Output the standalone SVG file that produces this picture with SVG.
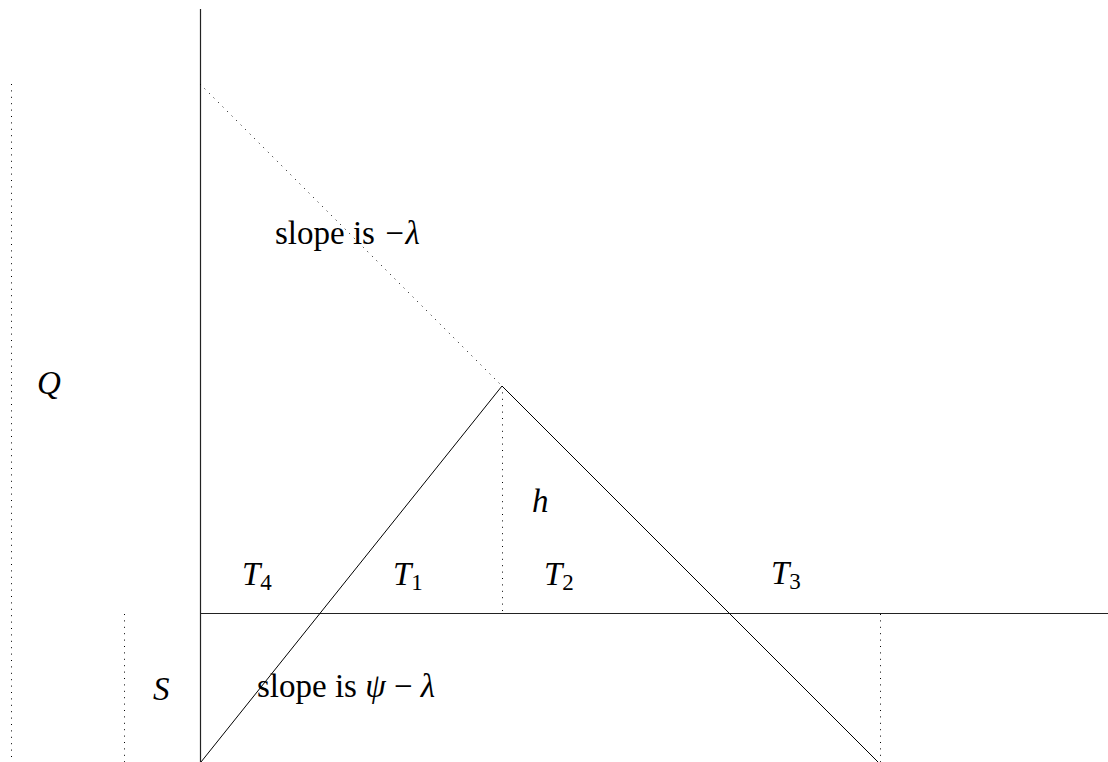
<svg xmlns="http://www.w3.org/2000/svg" width="1108" height="762" viewBox="0 0 1108 762">
<style>
.solid{stroke:#000;stroke-width:1;fill:none}
.axis{stroke:#222;stroke-width:1.2;fill:none}
.dot{stroke:#000;stroke-width:1;fill:none;stroke-dasharray:1 5.4}
.lbl{font-family:'Liberation Serif','Times New Roman',Times,'DejaVu Serif',serif;font-size:33px;fill:#000}
.m{font-style:italic}
.sub{font-size:23px;font-style:normal}
</style>
<rect width="1108" height="762" fill="#fff"/>
<g id="connectors">
<line class="axis" x1="200.5" y1="9" x2="200.5" y2="762"/>
<line class="axis" x1="200" y1="613.5" x2="1108" y2="613.5"/>
<polyline class="solid" points="201,762 502,386 878,762"/>
<line class="dot" x1="200" y1="84" x2="502" y2="386"/>
<line class="dot" x1="502.5" y1="386" x2="502.5" y2="613"/>
<line class="dot" x1="880.5" y1="614" x2="880.5" y2="762"/>
<line class="dot" x1="124.5" y1="614" x2="124.5" y2="762"/>
<line class="dot" x1="11.5" y1="84" x2="11.5" y2="762"/>
</g>
<g class="lbl" font-family="Liberation Serif, serif">
<g id="label-slope-top"><text x="275" y="244">slope is <tspan class="m">−λ</tspan></text></g>
<g id="label-slope-bottom"><text x="257" y="697">slope is <tspan class="m">ψ</tspan> − <tspan class="m">λ</tspan></text></g>
<g id="label-Q"><text class="m" x="37" y="394">Q</text></g>
<g id="label-S"><text class="m" x="153" y="700">S</text></g>
<g id="label-h"><text class="m" x="532" y="512">h</text></g>
<g id="label-T4"><text class="m" x="242" y="585">T<tspan class="sub" dy="5">4</tspan></text></g>
<g id="label-T1"><text class="m" x="393" y="585">T<tspan class="sub" dy="5">1</tspan></text></g>
<g id="label-T2"><text class="m" x="544" y="585">T<tspan class="sub" dy="5">2</tspan></text></g>
<g id="label-T3"><text class="m" x="771" y="584">T<tspan class="sub" dy="5">3</tspan></text></g>
</g>
</svg>
